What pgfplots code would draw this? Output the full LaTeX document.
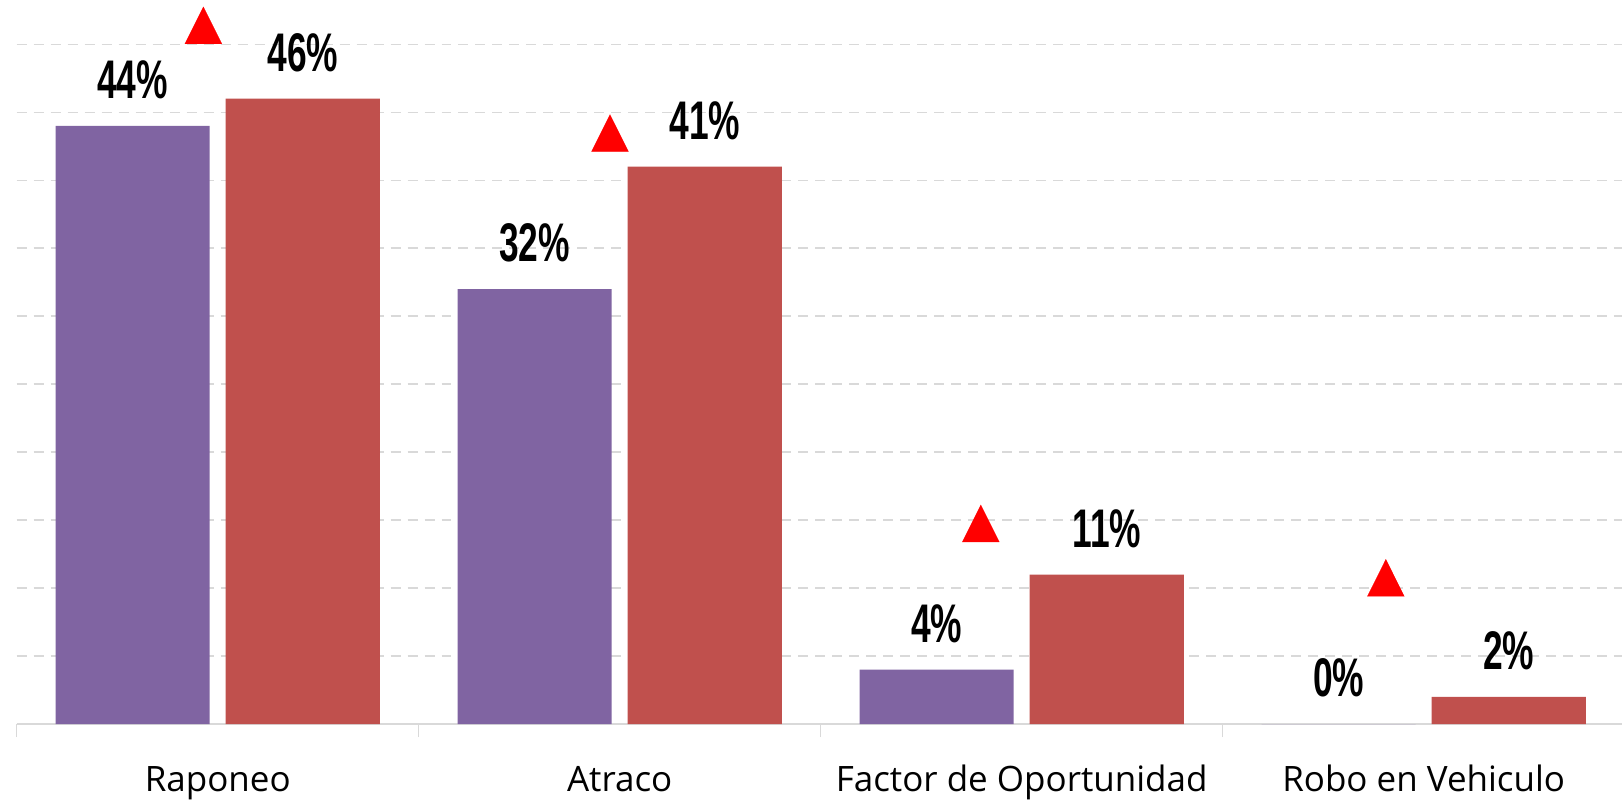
\documentclass[border=0pt]{standalone}
\usepackage{pgfplots}
\pgfplotsset{compat=1.18}
\usepackage{fontspec}
\setmainfont{Open Sans}
\newfontfamily\labfont[FakeStretch=0.65]{Liberation Sans}
\definecolor{cpurple}{HTML}{8064A2}
\definecolor{cred}{HTML}{C0504D}
\definecolor{grayline}{HTML}{D9D9D9}
\begin{document}
\begin{tikzpicture}
\begin{axis}[
  scale only axis,
  width=803.15pt, height=362.2pt,
  xmin=-0.5, xmax=3.494,
  ymin=0, ymax=53.26,
  axis x line*=bottom, axis y line*=left,
  y axis line style={draw=none},
  x axis line style={draw=grayline, line width=0.75pt},
  xtick={0,1,2,3},
  xticklabels={Raponeo, Atraco, Factor de Oportunidad, Robo en Vehiculo},
  minor xtick={-0.5,0.5,1.5,2.5,3.5},
  xtick align=outside,
  major tick length=0pt,
  minor tick length=6.5pt,
  every tick/.style={draw=grayline, line width=0.75pt},
  xticklabel style={font=\fontsize{17.5}{20}\selectfont, anchor=base, inner sep=0pt, yshift=-33.8pt},
  ytick={5,10,...,50},
  yticklabels={},
  ymajorgrids,
  major grid style={draw=grayline, dash pattern=on 5pt off 3.5pt, line width=0.75pt},
  clip=false,
  /pgf/number format/assume math mode=true,
  every node near coord/.append style={font=\labfont\bfseries\fontsize{27.2}{30}\selectfont, anchor=south, inner sep=0pt, text depth=0pt, yshift=13.5pt, text=black},
]
\addplot[ybar, bar width=0.3835, bar shift=-0.2117, fill=cpurple, draw=none,
  nodes near coords={\pgfmathprintnumber[fixed,precision=0]{\pgfplotspointmeta}\%},
  every node near coord/.append style={xshift=-42.57pt}]
  coordinates {(0,44) (1,32) (2,4) (3,0)};
\addplot[ybar, bar width=0.3835, bar shift=0.2117, fill=cred, draw=none,
  nodes near coords={\pgfmathprintnumber[fixed,precision=0]{\pgfplotspointmeta}\%},
  every node near coord/.append style={xshift=42.57pt}]
  coordinates {(0,46) (1,41) (2,11) (3,2)};
\addplot[only marks, mark=triangle*, mark size=10.68pt,
  mark options={fill=red, draw=red, line width=0.1pt, yscale=1.156}]
  coordinates {(-0.0356,50.94) (0.9759,43.02) (1.8983,14.30) (2.9058,10.30)};
\end{axis}
\path ([xshift=-8.35pt,yshift=-38.3pt]current axis.south west);
\end{tikzpicture}
\end{document}
